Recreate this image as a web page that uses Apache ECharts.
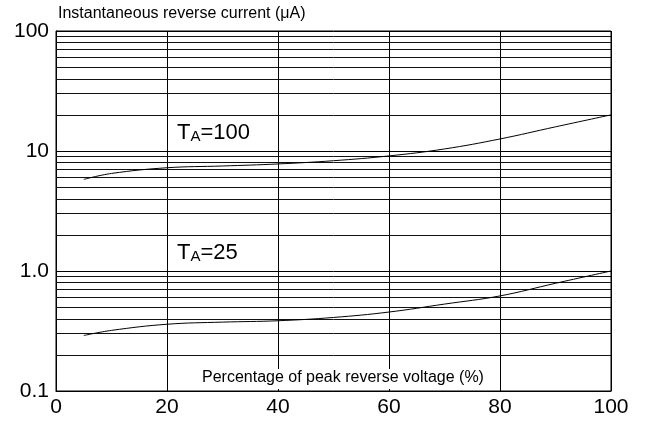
<!DOCTYPE html>
<html>
<head>
<meta charset="utf-8">
<script src="https://cdn.jsdelivr.net/npm/echarts@6/dist/echarts.min.js"></script>
<style>
html,body{margin:0;padding:0;background:#fff;}
#main{width:648px;height:422px;}
</style>
</head>
<body>
<div id="main"></div>
<script>
const xTicks = [0, 20, 40, 60, 80, 100];
const yTickLabels = {0.1: '0.1', 1: '1.0', 10: '10', 100: '100'};
const minorGridValues = [0.2,0.3,0.4,0.5,0.6,0.7,0.8,0.9,2,3,4,5,6,7,8,9,20,30,40,50,60,70,80,90];
const voltagePct = [5, 10, 20, 30, 40, 50, 60, 70, 80, 90, 100];
const currentTa100 = [5.8, 6.5, 7.25, 7.5, 7.8, 8.3, 9.1, 10.4, 12.6, 15.9, 20];
const currentTa25 = [0.29, 0.32, 0.36, 0.375, 0.385, 0.41, 0.455, 0.53, 0.62, 0.79, 1.0];
const yTitle = 'Instantaneous reverse current (\u03bcA)';
const xTitle = 'Percentage of peak reverse voltage (%)';

const FONT = '"Liberation Sans", Arial, sans-serif';
const chart = echarts.init(document.getElementById('main'));

const pairs = (xs, ys) => xs.map((x, i) => [x, ys[i]]);

chart.setOption({
  animation: false,
  backgroundColor: '#fff',
  grid: {left: 56, top: 31, width: 555, height: 360, show: true, borderColor: '#000', borderWidth: 1, backgroundColor: 'transparent'},
  xAxis: {
    type: 'value', min: 0, max: 100, interval: 20,
    axisLine: {show: true, lineStyle: {color: '#000', width: 1}},
    axisTick: {show: false},
    axisLabel: {color: '#000', fontSize: 21, fontFamily: FONT, margin: 6},
    splitLine: {show: true, lineStyle: {color: '#000', width: 1}}
  },
  yAxis: {
    type: 'log', logBase: 10, min: 0.1, max: 100,
    axisLine: {show: true, lineStyle: {color: '#000', width: 1}},
    axisTick: {show: false},
    axisLabel: {color: '#000', fontSize: 21, fontFamily: FONT, margin: 7,
      formatter: v => yTickLabels[v] !== undefined ? yTickLabels[v] : ''},
    splitLine: {show: true, lineStyle: {color: '#000', width: 1}}
  },
  graphic: [
    {type: 'text', left: 58, top: 6, style: {text: yTitle, fontSize: 16, fontFamily: FONT, fill: '#000'}},
    {type: 'text', left: 199, top: 369, z: 100, style: {text: xTitle, fontSize: 16, fontFamily: FONT, fill: '#000', backgroundColor: '#fff', padding: [1, 3, 3, 3]}},
    {type: 'text', left: 177, top: 122, z: 100, style: {
      text: '{a|T}{b|A}{a|=100}', fontFamily: FONT,
      rich: {a: {fontSize: 22, fontFamily: FONT, fill: '#000', verticalAlign: 'bottom'}, b: {fontSize: 15, fontFamily: FONT, fill: '#000', verticalAlign: 'bottom'}}}},
    {type: 'text', left: 177, top: 242, z: 100, style: {
      text: '{a|T}{b|A}{a|=25}', fontFamily: FONT,
      rich: {a: {fontSize: 22, fontFamily: FONT, fill: '#000', verticalAlign: 'bottom'}, b: {fontSize: 15, fontFamily: FONT, fill: '#000', verticalAlign: 'bottom'}}}}
  ],
  series: [
    {
      type: 'line', data: [], silent: true,
      markLine: {
        silent: true, symbol: ['none', 'none'], animation: false,
        label: {show: false},
        lineStyle: {color: '#111', width: 1, type: 'solid'},
        data: minorGridValues.map(v => ({yAxis: v}))
      }
    },
    {type: 'line', data: pairs(voltagePct, currentTa100), smooth: 0.4, showSymbol: false, lineStyle: {color: '#000', width: 1}, z: 5},
    {type: 'line', data: pairs(voltagePct, currentTa25), smooth: 0.4, showSymbol: false, lineStyle: {color: '#000', width: 1}, z: 5}
  ]
});
</script>
</body>
</html>
